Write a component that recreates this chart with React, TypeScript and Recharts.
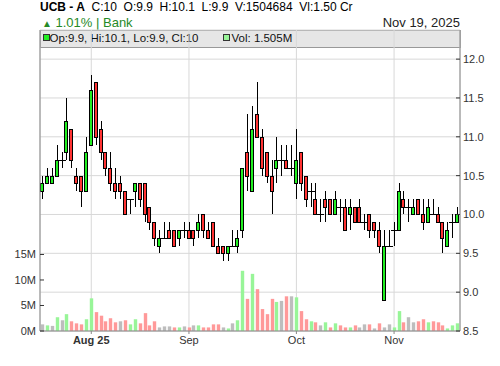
import React from 'react';
import { ComposedChart, Bar, XAxis, YAxis, CartesianGrid } from 'recharts';

const opens = [
  10.3, 10.4, 10.4, 10.5, 10.7, 10.8, 11.1, 10.5, 10.5, 10.3,
  10.9, 11.7, 11.1, 10.8, 10.6, 10.4, 10.4, 10.3, 10.2, 10.3,
  10.4, 10.4, 10.1, 9.9, 9.6, 9.7, 9.8, 9.8, 9.7, 9.8,
  9.8, 9.8, 9.8, 10.0, 9.8, 9.9, 9.6, 9.6, 9.5, 9.6,
  9.6, 9.8, 10.8, 10.3, 11.3, 11.0, 10.8, 10.5, 10.6, 10.7,
  10.7, 10.6, 10.4, 10.8, 10.5, 10.3, 10.2, 10.0, 10.2, 10.2,
  10.0, 10.1, 10.1, 10.0, 10.1, 10.1, 9.9, 10.0, 9.9, 9.8,
  8.9, 9.6, 9.8, 9.8, 10.2, 10.1, 10.0, 10.2, 10.0, 9.9,
  10.0, 10.0, 9.9, 9.6, 9.9, 9.9,
];
const highs = [
  10.5, 10.6, 10.6, 10.9, 10.8, 11.5, 11.1, 10.6, 10.5, 11.0,
  11.8, 11.7, 11.2, 10.8, 10.8, 10.6, 10.5, 10.3, 10.2, 10.4,
  10.4, 10.4, 10.1, 9.9, 9.8, 9.9, 9.9, 9.8, 9.8, 9.9,
  9.9, 9.8, 10.0, 10.0, 9.9, 9.9, 9.7, 9.6, 9.6, 9.8,
  9.8, 10.6, 11.3, 11.4, 11.7, 11.1, 10.8, 10.7, 11.0, 10.9,
  10.9, 10.9, 11.1, 10.8, 10.5, 10.4, 10.4, 10.2, 10.3, 10.2,
  10.3, 10.2, 10.2, 10.2, 10.1, 10.2, 10.0, 10.0, 9.9, 9.9,
  9.8, 9.8, 9.9, 10.4, 10.3, 10.2, 10.2, 10.2, 10.2, 10.2,
  10.2, 10.1, 9.9, 9.9, 10.0, 10.1,
];
const lows = [
  10.2, 10.4, 10.4, 10.5, 10.6, 10.7, 10.6, 10.3, 10.1, 10.3,
  10.9, 10.9, 10.7, 10.5, 10.3, 10.2, 10.2, 10.0, 10.0, 10.1,
  10.1, 9.9, 9.8, 9.6, 9.5, 9.7, 9.7, 9.6, 9.6, 9.7,
  9.7, 9.6, 9.7, 9.7, 9.7, 9.6, 9.5, 9.4, 9.4, 9.6,
  9.5, 9.7, 10.3, 10.3, 11.0, 10.5, 10.4, 10.0, 10.4, 10.5,
  10.6, 10.5, 10.2, 10.3, 10.1, 10.1, 10.0, 9.9, 9.9, 10.0,
  10.0, 9.9, 9.8, 9.8, 9.9, 9.9, 9.8, 9.7, 9.7, 9.5,
  8.9, 9.6, 9.6, 9.8, 10.0, 9.9, 10.0, 10.0, 9.8, 9.9,
  10.0, 9.9, 9.5, 9.6, 9.7, 9.9,
];
const closes = [
  10.4, 10.5, 10.5, 10.7, 10.7, 11.2, 10.7, 10.4, 10.3, 10.8,
  11.6, 11.0, 10.8, 10.6, 10.4, 10.3, 10.3, 10.0, 10.2, 10.4,
  10.2, 10.0, 9.9, 9.7, 9.7, 9.7, 9.7, 9.6, 9.8, 9.8,
  9.7, 9.7, 9.9, 9.8, 9.7, 9.6, 9.5, 9.5, 9.6, 9.6,
  9.7, 10.6, 10.5, 11.1, 11.0, 10.6, 10.5, 10.3, 10.7, 10.7,
  10.6, 10.6, 10.7, 10.4, 10.2, 10.3, 10.0, 10.0, 10.1, 10.0,
  10.2, 10.1, 9.8, 10.1, 9.9, 9.9, 9.9, 9.8, 9.8, 9.6,
  9.6, 9.6, 9.8, 10.3, 10.1, 10.1, 10.1, 10.0, 9.9, 10.1,
  10.0, 9.9, 9.7, 9.8, 9.9, 10.0,
];
const volumesM = [
  1.3, 1.1, 1.0, 2.7, 2.1, 3.3, 1.9, 1.5, 1.3, 2.3,
  6.4, 3.7, 3.0, 1.9, 2.5, 1.7, 1.9, 2.1, 1.3, 2.3,
  1.5, 3.5, 1.1, 1.9, 0.7, 0.9, 0.9, 0.7, 0.7, 0.9,
  0.7, 1.1, 1.1, 0.7, 0.7, 1.3, 1.3, 0.7, 0.5, 1.5,
  2.1, 11.8, 6.3, 11.2, 8.2, 4.3, 3.3, 6.3, 5.7, 5.9,
  6.8, 6.8, 6.6, 3.9, 2.3, 1.9, 1.7, 1.1, 1.7, 0.7,
  1.5, 1.1, 0.7, 0.7, 1.1, 0.7, 1.3, 1.3, 0.5, 1.5,
  0.7, 1.3, 0.7, 3.9, 1.7, 2.7, 1.7, 1.9, 2.3, 1.7,
  1.9, 1.7, 1.1, 0.5, 1.1, 1.505,
];

const monthTickIdx = [10, 30, 52, 72];
const monthLabels = ['Aug 25', 'Sep', 'Oct', 'Nov'];
const priceTicks = [8.5, 9, 9.5, 10, 10.5, 11, 11.5, 12];
const volTicks = [0, 5e6, 10e6, 15e6];

const C_UP = '#22ee22';
const C_DN = '#ff3333';
const V_UP = '#98f598';
const V_DN = '#ff9999';
const V_EQ = '#bdbdbd';
const FONT = '"Liberation Sans", Arial, sans-serif';

const rows = opens.map((o, i) => ({
  i,
  o,
  h: highs[i],
  l: lows[i],
  c: closes[i],
  range: [lows[i], highs[i]],
  v: volumesM[i] * 1e6,
  vdir: i === 0 ? 0 : Math.sign(Math.round((closes[i] - closes[i - 1]) * 100)),
}));

const Candle = (props: any) => {
  const { x, y, width, height, payload } = props;
  if (!payload) return null;
  const { o, h, l, c } = payload;
  const top = height >= 0 ? y : y + height;
  const hgt = Math.abs(height);
  const k = h - l > 0 ? hgt / (h - l) : 0;
  const cx = Math.floor(x + width / 2) + 0.5;
  const yO = top + (h - o) * k;
  const yC = top + (h - c) * k;
  const bTop = Math.round(Math.min(yO, yC)) + 0.5;
  const bBot = Math.round(Math.max(yO, yC)) + 0.5;
  const wTop = Math.round(top);
  const wBot = Math.round(top + hgt);
  return (
    <g>
      <line x1={cx} x2={cx} y1={wTop} y2={wBot} stroke="#000" strokeWidth={1} />
      {Math.abs(o - c) < 1e-9 ? (
        <line x1={cx - 3.5} x2={cx + 3.5} y1={bTop} y2={bTop} stroke="#000" strokeWidth={1} />
      ) : (
        <rect x={cx - 2} y={bTop} width={3} height={bBot - bTop} fill={c > o ? C_UP : C_DN} stroke="#000" strokeWidth={1} />
      )}
    </g>
  );
};

const VolBar = (props: any) => {
  const { x, y, width, height, payload } = props;
  if (!payload) return null;
  const cx = Math.floor(x + width / 2) + 0.5;
  const top = height >= 0 ? y : y + height;
  const fill = payload.vdir > 0 ? V_UP : payload.vdir < 0 ? V_DN : V_EQ;
  return <rect x={cx - 1.7} y={top} width={3.4} height={Math.abs(height)} fill={fill} />;
};

const MonthTick = (props: any) => {
  const { x, y, payload } = props;
  const idx = monthTickIdx.indexOf(payload.value);
  const label = idx >= 0 ? monthLabels[idx] : '';
  return (
    <text x={x} y={y} dy="0.71em" textAnchor="middle" fontSize={11} fill="#333" fontFamily={FONT}
      fontWeight={label.indexOf(' ') >= 0 ? 'bold' : 'normal'}>
      {label}
    </text>
  );
};

export default function App() {
  return (
    <div style={{ position: 'absolute', left: 0, top: 0, width: 500, height: 366, background: '#fff', fontFamily: FONT }}>
      <div style={{ position: 'absolute', left: 40, top: 0, fontSize: 12, lineHeight: '14px', whiteSpace: 'pre', color: '#000' }}>
        <b>UCB - A</b>{'  C:10  O:9.9  H:10.1  L:9.9  V:1504684  Vl:1.50 Cr'}
      </div>
      <div style={{ position: 'absolute', left: 42, top: 14.5, fontSize: 13, lineHeight: '15px', whiteSpace: 'pre', color: '#268a26' }}>
        <span style={{ fontSize: 10 }}>▲</span>{' 1.01% | Bank'}
      </div>
      <div style={{ position: 'absolute', right: 40, top: 14.5, fontSize: 13, lineHeight: '15px', whiteSpace: 'pre', color: '#222' }}>
        Nov 19, 2025
      </div>
      <div style={{ position: 'absolute', left: 40, top: 30, width: 421, height: 18, boxSizing: 'border-box', background: '#e6e6e6', border: '1px solid #999', zIndex: 0 }}>
        <div style={{ position: 'absolute', left: 1.5, top: 2.5, width: 5, height: 5, border: '1px solid #333', background: C_UP }} />
        <div style={{ position: 'absolute', left: 8.5, top: 1, fontSize: 11.5, lineHeight: '13px', whiteSpace: 'pre', color: '#111' }}>
          Op:9.9, Hi:10.1, Lo:9.9, Cl:10
        </div>
        <div style={{ position: 'absolute', left: 182, top: 2.5, width: 5, height: 5, border: '1px solid #333', background: V_UP }} />
        <div style={{ position: 'absolute', left: 190.5, top: 1, fontSize: 11.5, lineHeight: '13px', whiteSpace: 'pre', color: '#111' }}>
          Vol: 1.505M
        </div>
      </div>
      <div style={{ position: 'absolute', left: 0, top: 0, zIndex: 1 }}>
        <ComposedChart width={500} height={366} data={rows} margin={{ top: 30, right: 0, bottom: 0, left: 0 }}
          barCategoryGap={0} barGap={0}>
          <CartesianGrid xAxisId="p" yAxisId="p" stroke="#d8d8d8" />
          <XAxis xAxisId="p" dataKey="i" type="category" ticks={monthTickIdx} interval={0} height={35}
            tick={<MonthTick />} tickSize={3} axisLine={{ stroke: '#888' }} tickLine={{ stroke: '#888' }} />
          <XAxis xAxisId="v" dataKey="i" type="category" hide />
          <YAxis yAxisId="p" orientation="right" width={40} domain={[8.5, 12.375]} ticks={priceTicks} interval={0}
            allowDataOverflow tickFormatter={(v: number) => v.toFixed(1)} tickSize={-4} tickMargin={7}
            axisLine={{ stroke: '#888' }} tickLine={{ stroke: '#333' }}
            tick={{ fontSize: 11, fill: '#333', fontFamily: FONT }} />
          <YAxis yAxisId="v" orientation="left" width={40} domain={[0, 59e6]} ticks={volTicks} interval={0}
            allowDataOverflow tickFormatter={(v: number) => `${Math.round(v / 1e6)}M`} tickSize={-4} tickMargin={8}
            axisLine={{ stroke: '#888' }} tickLine={{ stroke: '#333' }}
            tick={{ fontSize: 11, fill: '#333', fontFamily: FONT }} />
          <Bar xAxisId="v" yAxisId="v" dataKey="v" shape={<VolBar />} isAnimationActive={false} />
          <Bar xAxisId="p" yAxisId="p" dataKey="range" shape={<Candle />} isAnimationActive={false} />
        </ComposedChart>
      </div>
    </div>
  );
}
